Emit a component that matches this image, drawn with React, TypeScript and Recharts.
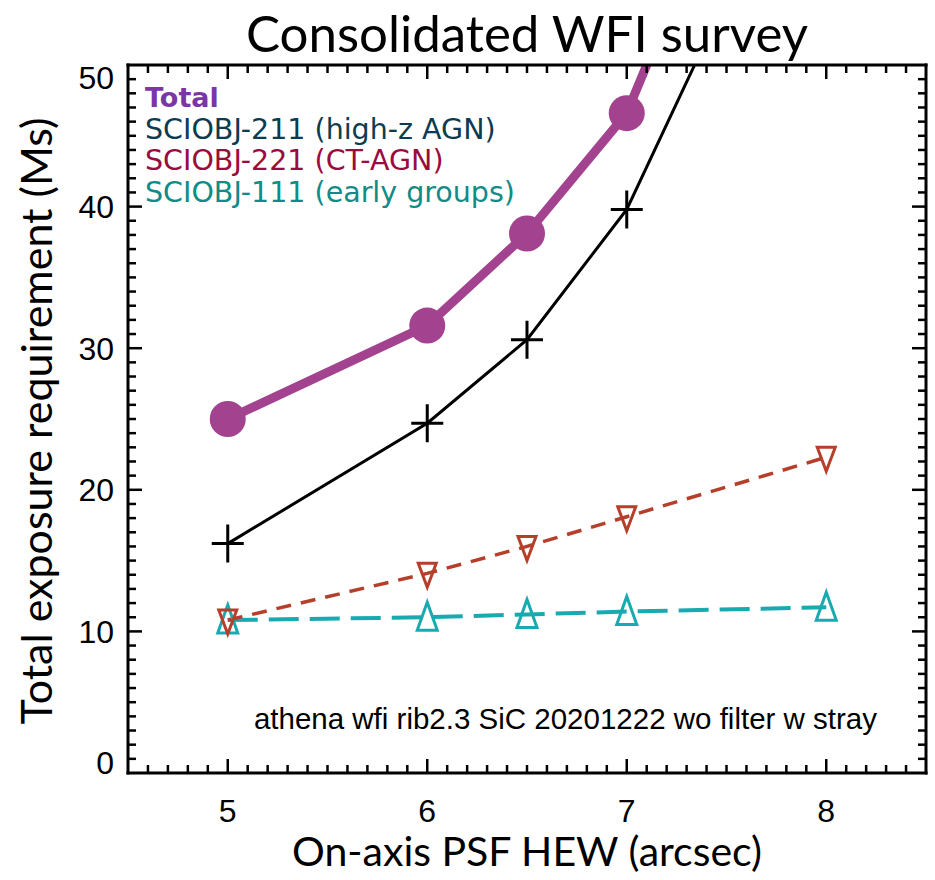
import React from 'react';
import { LineChart, Line, XAxis, YAxis, Customized } from 'recharts';

// ---- data ----
const hewArcsec = [5, 6, 6.5, 7, 8];
const totalMs = [25.0, 31.6, 38.1, 46.6, 80.6];
const highzAgnMs = [16.2, 24.7, 30.6, 39.8, 69.8];
const ctAgnMs = [10.8, 14.1, 16.0, 18.1, 22.3];
const earlyGroupsMs = [10.8, 11.0, 11.2, 11.4, 11.7];

const xMajorTicks = [5, 6, 7, 8];
const yMajorTicks = [0, 10, 20, 30, 40, 50];
const xDomain: [number, number] = [4.5, 8.5];
const yDomain: [number, number] = [0, 50];

const legendLabels = ['Total', 'SCIOBJ-211 (high-z AGN)', 'SCIOBJ-221 (CT-AGN)', 'SCIOBJ-111 (early groups)'];
const legendColors = ['#7B36A6', '#0D3B50', '#9A0B3E', '#0F8B88'];
const titleText = 'Consolidated WFI survey';
const xLabel = 'On-axis PSF HEW (arcsec)';
const yLabel = 'Total exposure requirement (Ms)';
const noteText = 'athena wfi rib2.3 SiC 20201222 wo filter w stray';

const data = hewArcsec.map((h, i) => ({
  hew: h,
  total: totalMs[i],
  highz: highzAgnMs[i],
  ct: ctAgnMs[i],
  early: earlyGroupsMs[i],
}));

const xTicks: number[] = [];
for (let i = 1; i < 40; i++) xTicks.push(Math.round((xDomain[0] + i * 0.1) * 10) / 10);
const yTicks: number[] = [];
for (let i = 0; i <= 50; i++) yTicks.push(i);

const isMajor = (v: number) => Math.abs(v - Math.round(v)) < 1e-6;

const TICK_FONT = '"Liberation Sans", Arial, sans-serif';
const LABEL_FONT = 'Lato, "Open Sans", sans-serif';
const TICK_SIZE = 32;

const XTick = (side: 'bottom' | 'top') => (props: any) => {
  const { x, y, payload } = props;
  const v = payload.value;
  const major = isMajor(v);
  const len = major ? 14 : 8;
  const dir = side === 'bottom' ? -1 : 1;
  const showLabel = side === 'bottom' && major && xMajorTicks.includes(Math.round(v));
  return (
    <g>
      <line x1={x} x2={x} y1={y} y2={y + dir * len} stroke="#000" strokeWidth={2.5} />
      {showLabel && (
        <text x={x} y={y + 49} textAnchor="middle" fontFamily={TICK_FONT} fontSize={TICK_SIZE} fill="#000">
          {v}
        </text>
      )}
    </g>
  );
};

const YTick = (side: 'left' | 'right') => (props: any) => {
  const { x, y, payload } = props;
  const v = payload.value;
  const major = v % 10 === 0;
  const len = major ? 14 : 8;
  const dir = side === 'left' ? 1 : -1;
  const showLabel = side === 'left' && yMajorTicks.includes(v);
  // end labels are kept inside the frame, as in the reference
  const baseline = v === yDomain[1] ? y + 24 : v === yDomain[0] ? y + 1 : y + 11.5;
  return (
    <g>
      {v !== yDomain[0] && v !== yDomain[1] && (
        <line x1={x} x2={x + dir * len} y1={y} y2={y} stroke="#000" strokeWidth={2.5} />
      )}
      {showLabel && (
        <text x={x - 14} y={baseline} textAnchor="end" fontFamily={TICK_FONT} fontSize={TICK_SIZE} fill="#000">
          {v}
        </text>
      )}
    </g>
  );
};

const TotalDot = (p: any) =>
  p.cx == null || p.cy == null ? <g key={`t${p.index}`} /> : (
    <circle key={`t${p.index}`} cx={p.cx} cy={p.cy} r={18} fill="#A3438F" />
  );

const PlusDot = (p: any) =>
  p.cx == null || p.cy == null ? <g key={`p${p.index}`} /> : (
    <path
      key={`p${p.index}`}
      d={`M${p.cx - 16},${p.cy}H${p.cx + 16}M${p.cx},${p.cy - 19}V${p.cy + 19}`}
      stroke="#000"
      strokeWidth={3}
      fill="none"
    />
  );

const DownTri = (p: any) =>
  p.cx == null || p.cy == null ? <g key={`d${p.index}`} /> : (
    <path
      key={`d${p.index}`}
      d={`M${p.cx - 9},${p.cy - 10}L${p.cx + 9},${p.cy - 10}L${p.cx},${p.cy + 14}Z`}
      stroke="#B53F2B"
      strokeWidth={3}
      fill="none"
      strokeLinejoin="miter"
    />
  );

const UpTri = (p: any) =>
  p.cx == null || p.cy == null ? <g key={`u${p.index}`} /> : (
    <path
      key={`u${p.index}`}
      d={`M${p.cx - 10},${p.cy + 13}L${p.cx + 10},${p.cy + 13}L${p.cx},${p.cy - 15}Z`}
      stroke="#19AAB0"
      strokeWidth={3}
      fill="none"
      strokeLinejoin="miter"
    />
  );

const Texts = () => (
  <g>
    <text x={527} y={52} textAnchor="middle" fontFamily={LABEL_FONT} fontSize={51} fill="#000">
      {titleText}
    </text>
    <text x={527} y={866} textAnchor="middle" fontFamily={LABEL_FONT} fontSize={41} fill="#000">
      {xLabel}
    </text>
    <text
      x={0}
      y={0}
      transform="translate(52,421) rotate(-90)"
      textAnchor="middle"
      fontFamily={LABEL_FONT}
      fontSize={43}
      fill="#000"
    >
      {yLabel}
    </text>
    {legendLabels.map((l, i) => (
      <text
        key={l}
        x={145}
        y={107 + i * 31.7}
        fontFamily='"DejaVu Sans", Verdana, sans-serif'
        fontSize={i === 0 ? 27 : 28.5}
        fontWeight={i === 0 ? 'bold' : 'normal'}
        fill={legendColors[i]}
      >
        {l}
      </text>
    ))}
    <text x={877} y={729} textAnchor="end" fontFamily={TICK_FONT} fontSize={29.5} fill="#000">
      {noteText}
    </text>
  </g>
);

const axisLineStyle = { stroke: '#000', strokeWidth: 3, strokeLinecap: 'square' as const };

export default function App() {
  return (
    <div style={{ position: 'absolute', left: 0, top: 0, background: '#fff' }}>
      <LineChart width={935} height={880} data={data} margin={{ top: 64, right: 8, bottom: 47, left: 68 }}>
        <XAxis
          xAxisId="bottom"
          dataKey="hew"
          type="number"
          domain={xDomain}
          allowDataOverflow
          ticks={xTicks}
          interval={0}
          tickSize={0}
          tickMargin={0}
          tickLine={false}
          axisLine={axisLineStyle}
          tick={XTick('bottom')}
          height={60}
          orientation="bottom"
        />
        <XAxis
          xAxisId="top"
          dataKey="hew"
          type="number"
          domain={xDomain}
          allowDataOverflow
          ticks={xTicks}
          interval={0}
          tickSize={0}
          tickMargin={0}
          tickLine={false}
          axisLine={axisLineStyle}
          tick={XTick('top')}
          height={1}
          orientation="top"
        />
        <YAxis
          yAxisId="left"
          type="number"
          domain={yDomain}
          allowDataOverflow
          ticks={yTicks}
          interval={0}
          tickSize={0}
          tickMargin={0}
          tickLine={false}
          axisLine={axisLineStyle}
          tick={YTick('left')}
          width={60}
          orientation="left"
        />
        <YAxis
          yAxisId="right"
          type="number"
          domain={yDomain}
          allowDataOverflow
          ticks={yTicks}
          interval={0}
          tickSize={0}
          tickMargin={0}
          tickLine={false}
          axisLine={axisLineStyle}
          tick={YTick('right')}
          width={1}
          orientation="right"
        />
        <Line
          xAxisId="bottom"
          yAxisId="left"
          dataKey="early"
          stroke="#19AAB0"
          strokeWidth={4}
          strokeDasharray="30 11"
          dot={UpTri}
          activeDot={false}
          isAnimationActive={false}
        />
        <Line
          xAxisId="bottom"
          yAxisId="left"
          dataKey="ct"
          stroke="#B53F2B"
          strokeWidth={3.5}
          strokeDasharray="15 10"
          dot={DownTri}
          activeDot={false}
          isAnimationActive={false}
        />
        <Line
          xAxisId="bottom"
          yAxisId="left"
          dataKey="highz"
          stroke="#000"
          strokeWidth={3}
          dot={PlusDot}
          activeDot={false}
          isAnimationActive={false}
        />
        <Line
          xAxisId="bottom"
          yAxisId="left"
          dataKey="total"
          stroke="#A3438F"
          strokeWidth={9}
          dot={TotalDot}
          activeDot={false}
          isAnimationActive={false}
        />
        <Customized component={Texts} />
      </LineChart>
    </div>
  );
}
